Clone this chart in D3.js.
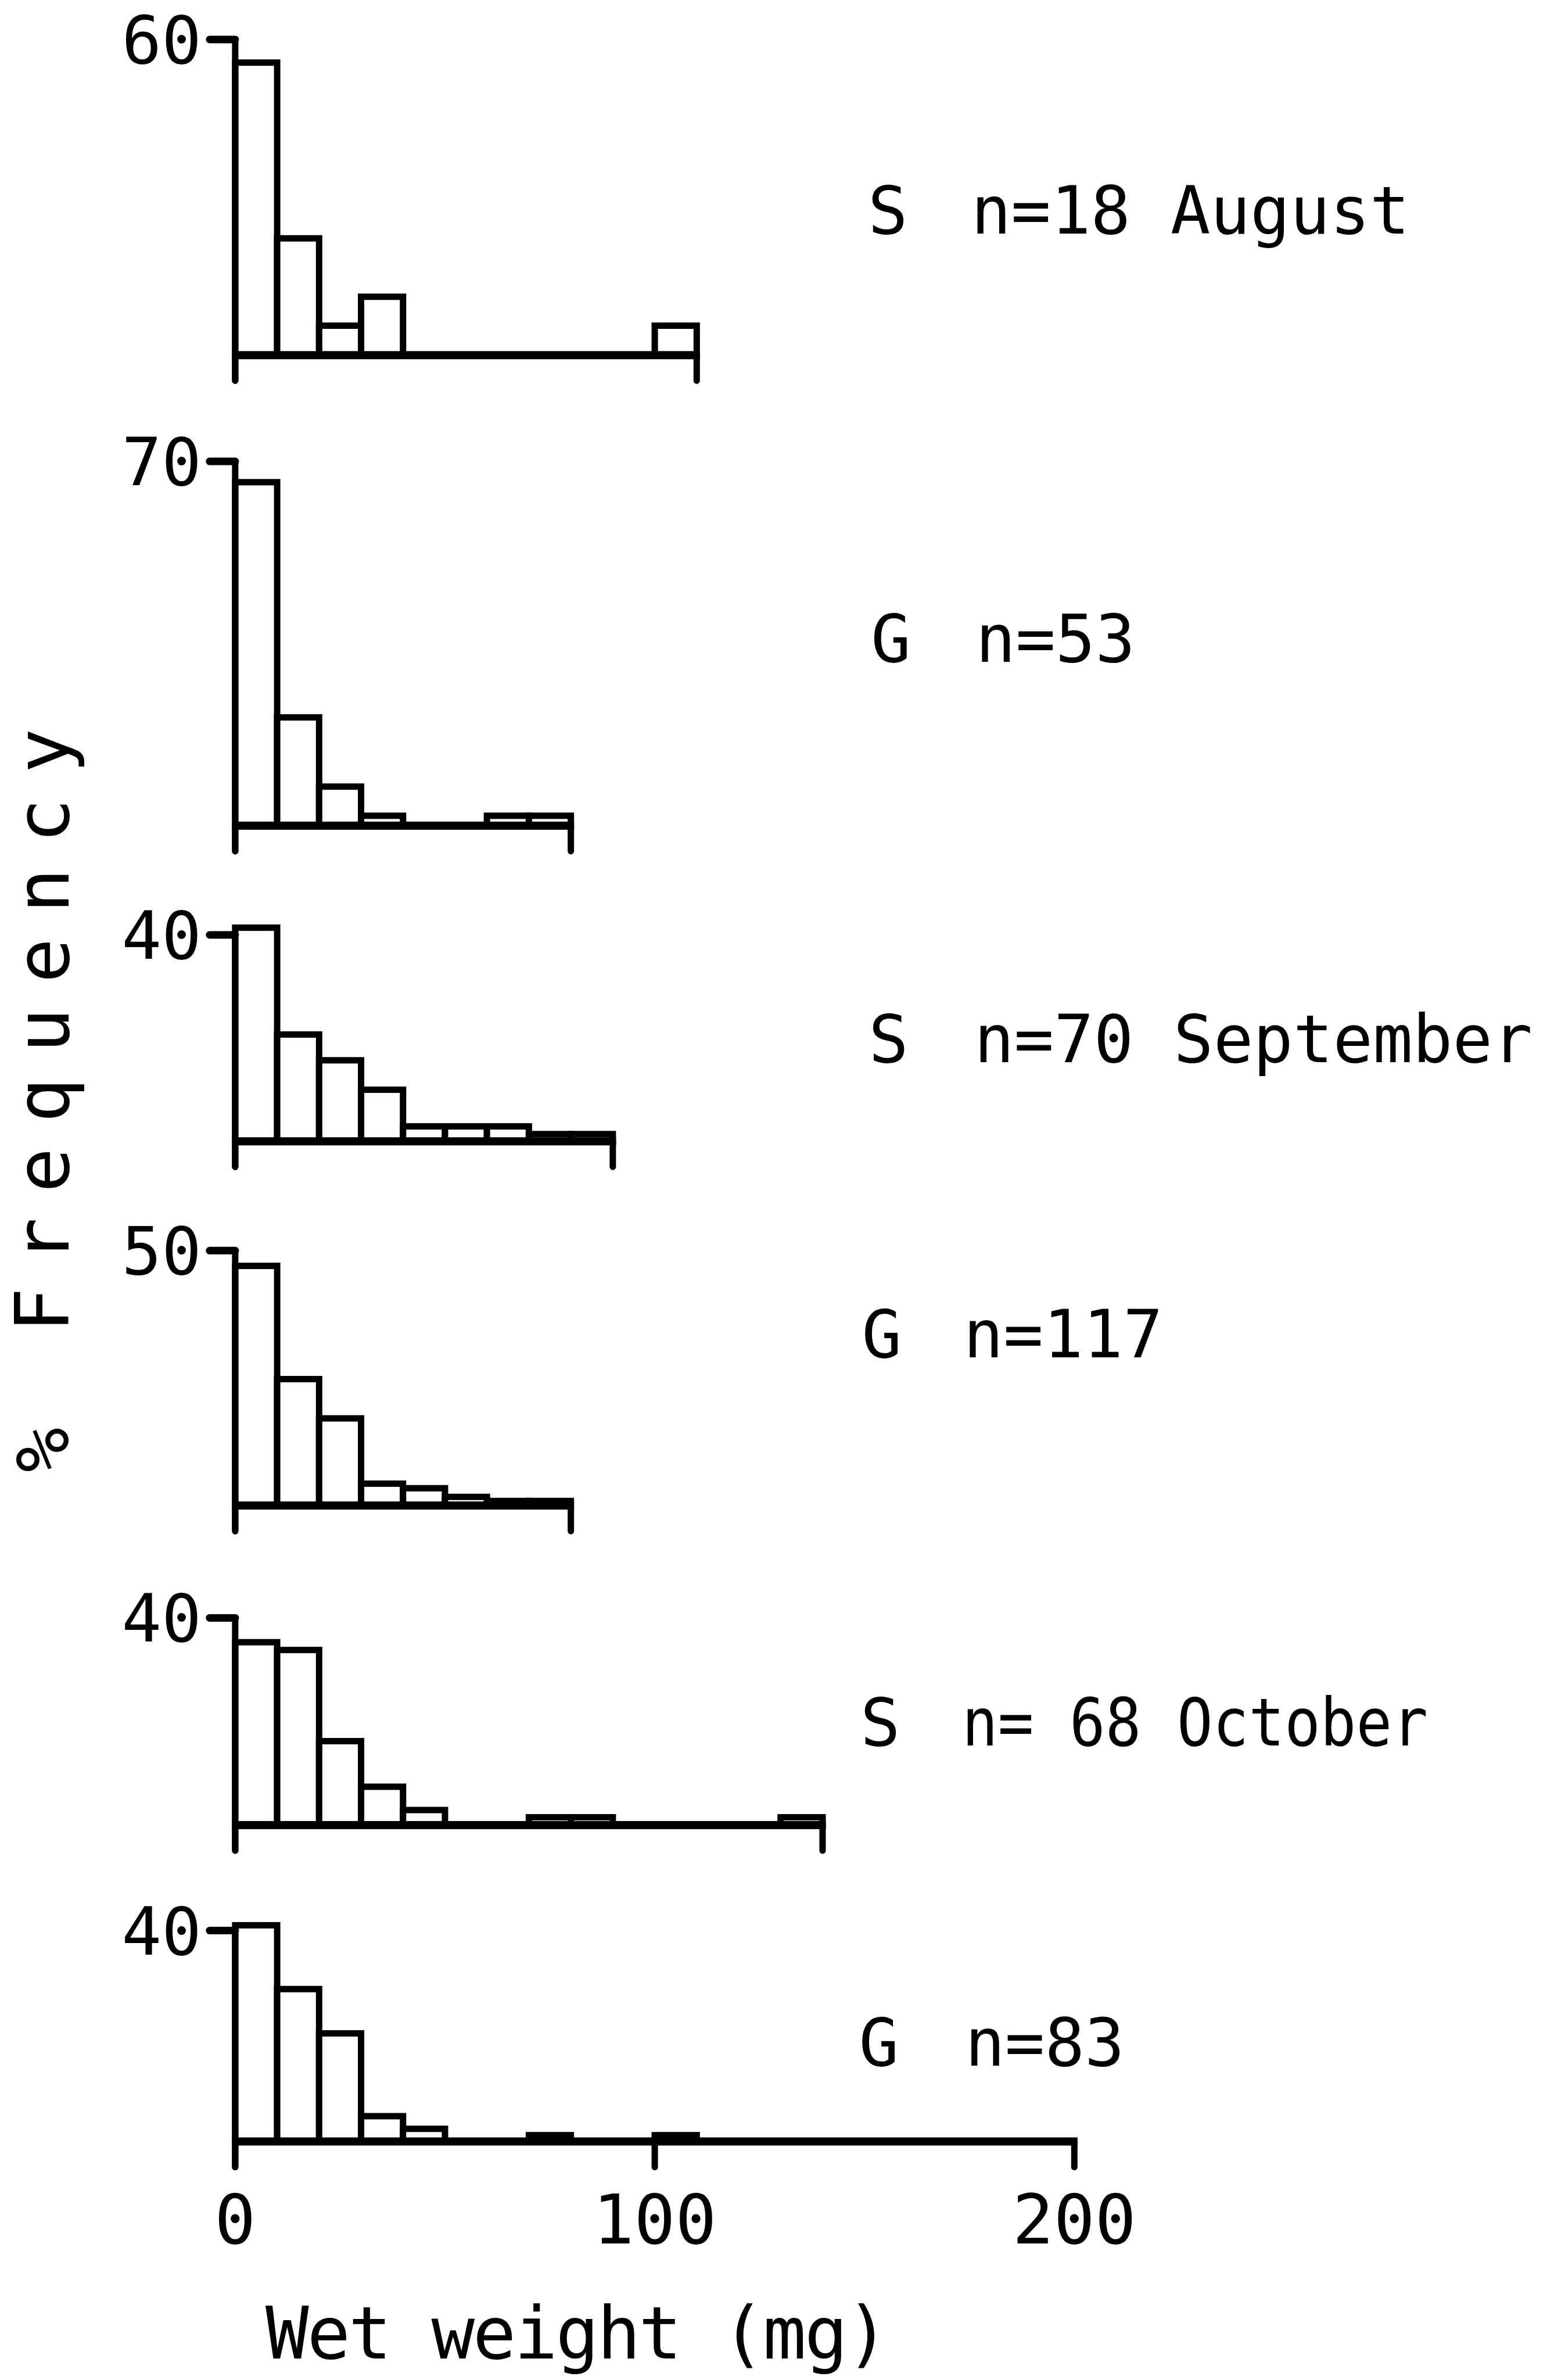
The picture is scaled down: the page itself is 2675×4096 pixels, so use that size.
<!DOCTYPE html>
<html>
<head>
<meta charset="utf-8">
<script src="https://cdn.jsdelivr.net/npm/d3@7"></script>
<style>
  html, body { margin: 0; padding: 0; background: #fff; }
  svg { display: block; }
  text { font-family: "DejaVu Sans Mono", "Liberation Mono", monospace; fill: #000; }
</style>
</head>
<body>
<script>
// ---------- DATA (percent frequency per 10 mg wet-weight class) ----------
const binWidth = 10;
const groups   = ["S", "G", "S", "G", "S", "G"];
const nLabels  = ["n=18 August", "n=53", "n=70 September", "n=117", "n= 68 October", "n=83"];
const yTops    = [60, 70, 40, 50, 40, 40];          // top y tick of each panel
const xEnds    = [110, 80, 90, 80, 140, 200];       // end of each panel's x axis
const xTickLabels = [0, 100, 200];

const augustS    = [55.6, 22.2, 5.6, 11.1, 0, 0, 0, 0, 0, 0, 5.6];
const augustG    = [66.0, 20.8, 7.5, 1.9, 0, 0, 1.9, 1.9];
const septemberS = [41.4, 20.7, 15.7, 10.0, 2.9, 2.9, 2.9, 1.4, 1.4];
const septemberG = [47.0, 24.8, 17.1, 4.3, 3.4, 1.7, 0.9, 0.9];
const octoberS   = [35.3, 33.8, 16.2, 7.4, 2.9, 0, 0, 1.5, 1.5, 0, 0, 0, 0, 1.5];
const octoberG   = [41.0, 28.9, 20.5, 4.8, 2.4, 0, 0, 1.2, 0, 0, 1.2];
const series = [augustS, augustG, septemberS, septemberG, octoberS, octoberG];

const xAxisTitle = "Wet weight (mg)";
const yAxisTitle = "% Frequency";

// ---------- LAYOUT ----------
const W = 2675, H = 4096;
const k = 2.612;                       // reference(1024-wide view) -> page px
const baselines = [234, 544, 752, 992, 1202.5, 1411].map(v => v * k);
const tickYs    = [26, 304, 616, 824, 1066, 1272].map(v => v * k);
const groupX    = [572, 574, 572.5, 568, 567, 566].map(v => v * k);
const nX        = [640, 643, 642, 635, 634, 636].map(v => v * k);
const labelY    = [154, 436, 700, 894.5, 1150, 1361].map(v => v * k);
const nLen      = [null, null, null, null, 307 * k, null];

const barStroke = 11, axisStroke = 14;
const tickLen = 44, tickDown = 44;
const fontSize = 114;

const svg = d3.select("body").append("svg")
  .attr("width", W).attr("height", H)
  .attr("viewBox", `0 0 ${W} ${H}`);

svg.append("rect").attr("width", W).attr("height", H).attr("fill", "#fff");

const x = d3.scaleLinear().domain([0, 200]).range([155 * k, 708 * k]);

series.forEach((vals, i) => {
  const y = d3.scaleLinear().domain([0, yTops[i]]).range([baselines[i], tickYs[i]]);
  const g = svg.append("g");

  const bins = vals.map((v, j) => ({ x0: j * binWidth, x1: (j + 1) * binWidth, v }))
                   .filter(d => d.v > 0);

  g.selectAll("rect.bar").data(bins).join("rect")
    .attr("class", "bar")
    .attr("x", d => x(d.x0))
    .attr("width", d => x(d.x1) - x(d.x0))
    .attr("y", d => y(d.v))
    .attr("height", d => y(0) - y(d.v))
    .attr("fill", "#fff")
    .attr("stroke", "#000")
    .attr("stroke-width", barStroke)
    .attr("stroke-linejoin", "miter");

  // x axis line
  g.append("line")
    .attr("x1", x(0) - barStroke / 2).attr("x2", x(xEnds[i]) + barStroke / 2)
    .attr("y1", y(0)).attr("y2", y(0))
    .attr("stroke", "#000").attr("stroke-width", axisStroke);

  // x ticks (downward)
  const xt = i === series.length - 1 ? xTickLabels : [0, xEnds[i]];
  g.selectAll("line.xt").data(xt).join("line")
    .attr("class", "xt")
    .attr("x1", d => x(d)).attr("x2", d => x(d))
    .attr("y1", y(0)).attr("y2", y(0) + tickDown)
    .attr("stroke", "#000").attr("stroke-width", barStroke)
    .attr("stroke-linecap", "round");

  // y axis line + top tick
  g.append("line")
    .attr("x1", x(0)).attr("x2", x(0))
    .attr("y1", y(yTops[i])).attr("y2", y(0) + tickDown)
    .attr("stroke", "#000").attr("stroke-width", barStroke)
    .attr("stroke-linecap", "round");
  g.append("line")
    .attr("x1", x(0) - tickLen).attr("x2", x(0))
    .attr("y1", y(yTops[i])).attr("y2", y(yTops[i]))
    .attr("stroke", "#000").attr("stroke-width", barStroke + 2)
    .attr("stroke-linecap", "round");

  g.append("text")
    .attr("x", x(0) - tickLen - 14)
    .attr("y", y(yTops[i]) + fontSize * 0.36)
    .attr("text-anchor", "end")
    .attr("font-size", fontSize)
    .text(yTops[i]);

  // panel labels
  g.append("text")
    .attr("x", groupX[i]).attr("y", labelY[i])
    .attr("font-size", fontSize)
    .text(groups[i]);
  const nt = g.append("text")
    .attr("x", nX[i]).attr("y", labelY[i])
    .attr("font-size", fontSize)
    .text(nLabels[i]);
  if (nLen[i]) nt.attr("textLength", nLen[i]).attr("lengthAdjust", "spacingAndGlyphs");

  // x tick labels on bottom panel
  if (i === series.length - 1) {
    g.selectAll("text.xl").data(xTickLabels).join("text")
      .attr("class", "xl")
      .attr("x", d => x(d))
      .attr("y", 1478 * k)
      .attr("text-anchor", "middle")
      .attr("font-size", 118)
      .text(d => d);
  }
});

// axis titles
svg.append("text")
  .attr("x", 175 * k).attr("y", 1554 * k)
  .attr("font-size", 124)
  .attr("textLength", 411 * k).attr("lengthAdjust", "spacing")
  .text(xAxisTitle);

svg.append("text")
  .attr("transform", `translate(${45 * k},${725 * k}) rotate(-90)`)
  .attr("text-anchor", "middle")
  .attr("font-size", 128)
  .attr("textLength", 490 * k).attr("lengthAdjust", "spacing")
  .text(yAxisTitle);
</script>
</body>
</html>
